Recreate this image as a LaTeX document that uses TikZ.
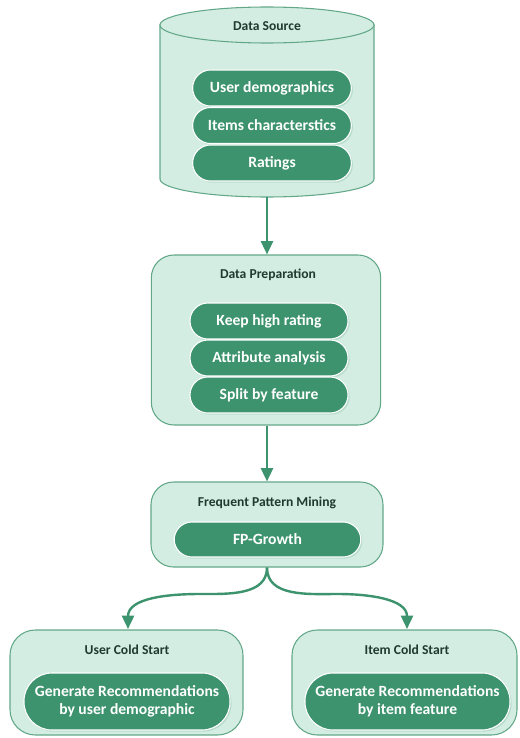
\documentclass[tikz,border=0pt]{standalone}
\usepackage{fontspec}
\setmainfont{Carlito}
\usetikzlibrary{arrows.meta,shadows}

\definecolor{mint}{HTML}{D4EDE2}
\definecolor{mintline}{HTML}{62A888}
\definecolor{leaf}{HTML}{3D936D}
\definecolor{ink}{HTML}{1F3A2E}

\tikzset{
  panel/.style={draw=mintline, fill=mint, line width=0.8pt, rounded corners=17pt, inner sep=0pt},
  title/.style={text=ink, font=\bfseries\fontsize{10.2}{12}\selectfont},
  pill/.style={draw=white, line width=0.8pt, fill=leaf, text=white, rounded corners=13.4pt,
    inner sep=0pt, align=center, font=\bfseries\fontsize{11.7}{13.8}\selectfont,
    drop shadow={shadow xshift=1.2pt, shadow yshift=-1.2pt, fill=leaf, opacity=0.18}},
  flow/.style={draw=leaf, line width=1.8pt, -{Triangle[width=9pt,length=10pt]}}
}

\begin{document}
\begin{tikzpicture}[x=0.75pt, y=0.75pt]
                \useasboundingbox (0,0) rectangle (520,-738);

                % data source cylinder
                \draw[draw=mintline, fill=mint, line width=0.8pt] (160,-25) -- (160,-179)
                  arc[start angle=180, end angle=360, x radius=107, y radius=18] -- (374,-25) -- cycle;
                \draw[draw=mintline, fill=mint, line width=0.8pt] (267,-25) ellipse[x radius=107, y radius=18];
                \node[title] (src) at (267,-26) {Data Source};
                \coordinate (srcbase) at (267,-197);

                \node[pill, minimum width=119pt, minimum height=27pt] (users) at (272,-88) {User demographics};
                \node[pill, minimum width=119pt, minimum height=27pt] (items) at (272,-125.5) {Items characterstics};
                \node[pill, minimum width=119pt, minimum height=27pt] (ratings) at (272,-163) {Ratings};

                % data preparation
                \node[panel, minimum width=172pt, minimum height=127.5pt] (prep) at (266,-340) {};
                \node[title] (preptitle) at (268,-275) {Data Preparation};
                \node[pill, minimum width=118.5pt, minimum height=27pt] (keep) at (269,-321) {Keep high rating};
                \node[pill, minimum width=118.5pt, minimum height=27pt] (attr) at (269,-358) {Attribute analysis};
                \node[pill, minimum width=118.5pt, minimum height=27pt] (split) at (269,-395) {Split by feature};

                % frequent pattern mining
                \node[panel, minimum width=174pt, minimum height=63.75pt] (fpm) at (267,-524.5) {};
                \node[title] (fpmtitle) at (267,-503) {Frequent Pattern Mining};
                \node[pill, minimum width=140pt, minimum height=26.25pt] (growth) at (267.5,-539.5) {FP-Growth};

                % cold start
                \node[panel, minimum width=174.75pt, minimum height=78.75pt, rounded corners=19pt] (user) at (126.5,-682.5) {};
                \node[title] (usertitle) at (127,-650) {User Cold Start};
                \node[pill, minimum width=154.5pt, minimum height=42.75pt, rounded corners=21pt] (userrec) at (127,-701.5)
                  {Generate Recommendations\\by user demographic};

                \node[panel, minimum width=168.75pt, minimum height=78.75pt, rounded corners=19pt] (item) at (404.5,-682.5) {};
                \node[title] (itemtitle) at (407,-650) {Item Cold Start};
                \node[pill, minimum width=153.75pt, minimum height=42.75pt, rounded corners=21pt] (itemrec) at (407.5,-701.5)
                  {Generate Recommendations\\by item feature};

                % connectors
                \coordinate (lbend) at (200,-594);
                \coordinate (rbend) at (338,-594);
                \coordinate (lend) at (128,-629);
                \coordinate (rend) at (407,-629);

                \draw[flow] (srcbase) -- (prep.north -| srcbase);
                \draw[flow] (prep.south -| srcbase) -- (fpm.north);
                \draw[flow] (fpm.south) to[out=-90, in=0] (lbend) to[out=180, in=90] (lend);
                \draw[flow] (fpm.south) to[out=-90, in=180] (rbend) to[out=0, in=90] (rend);
            \end{tikzpicture}
\end{document}
